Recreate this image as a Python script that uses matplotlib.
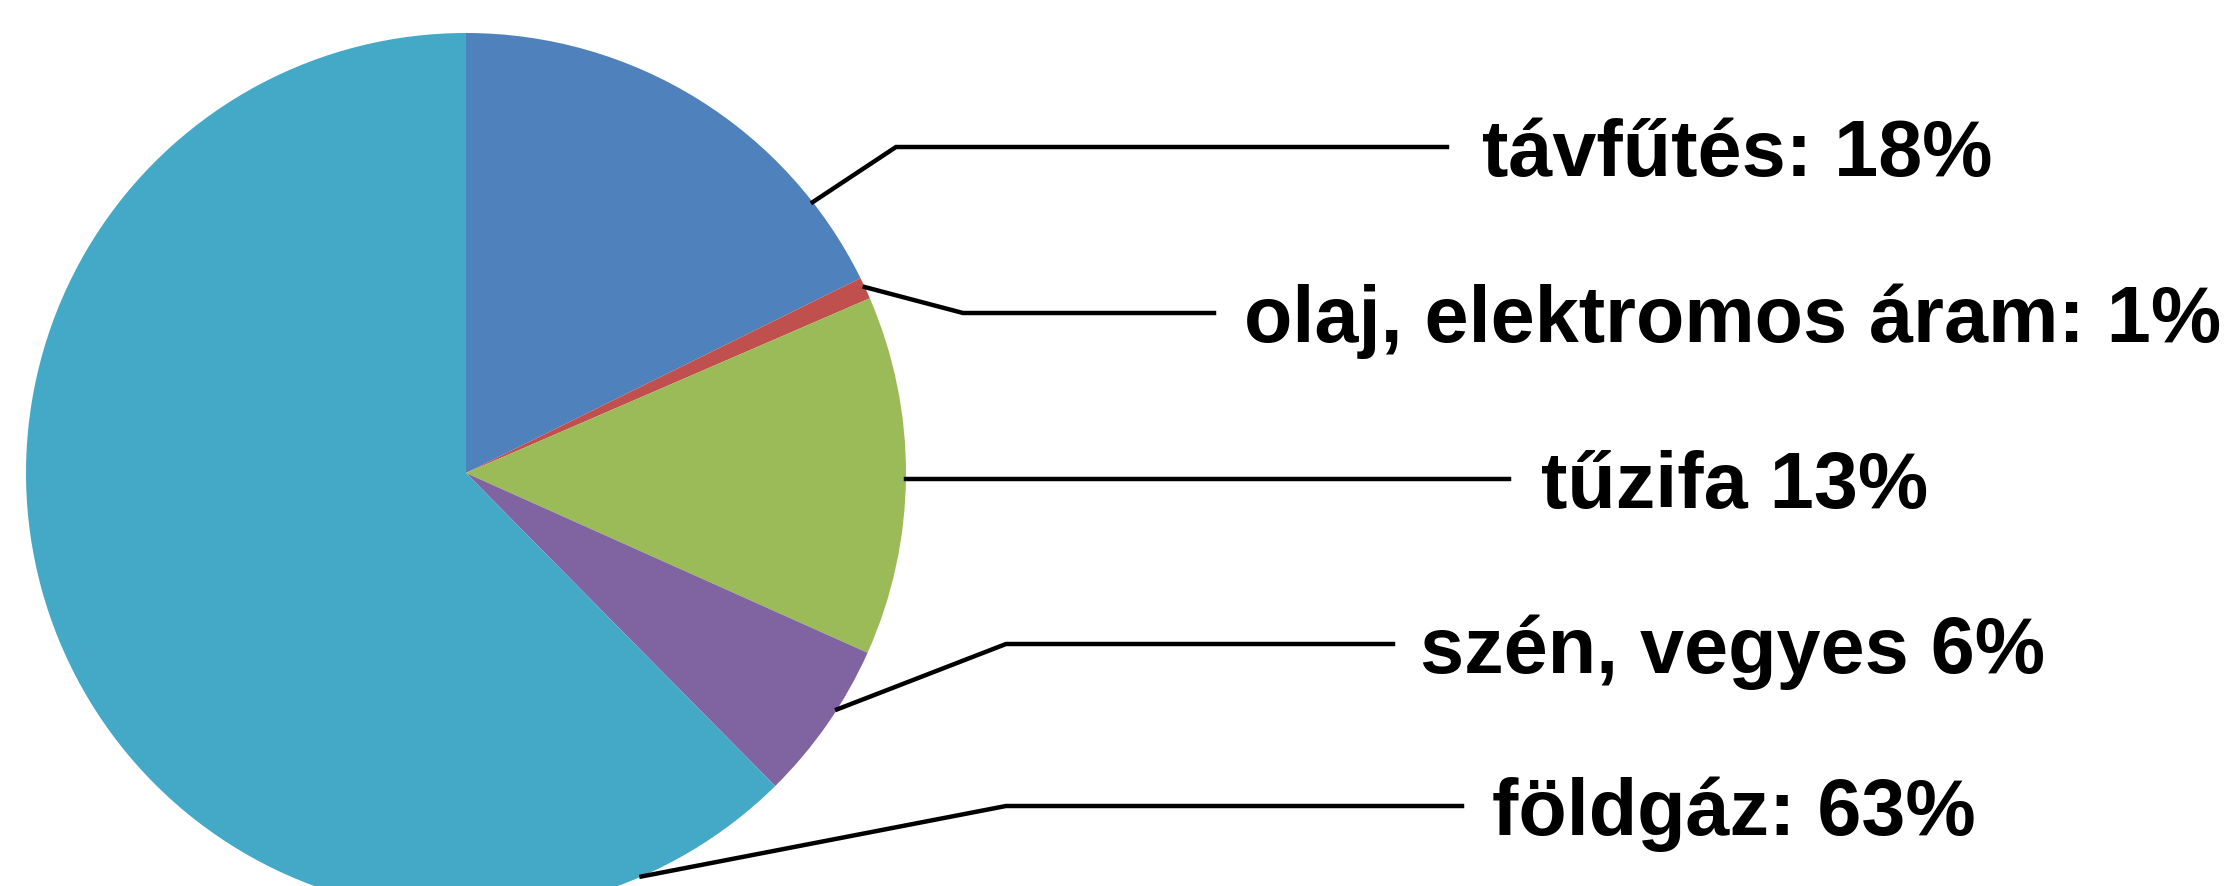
import numpy as np
import matplotlib.pyplot as plt

W, H = 2234, 886

categories = ['távfűtés', 'olaj, elektromos áram', 'tűzifa', 'szén, vegyes', 'földgáz']
shares = [17.7, 0.8, 13.2, 5.9, 62.4]
pct_labels = [18, 1, 13, 6, 63]
separators = [': ', ': ', ' ', ' ', ': ']
colors = ['#4F81BD', '#C0504D', '#9BBB59', '#8064A2', '#44A9C7']

# layout in image pixels (y measured from top)
cx, cy, r = 466, 473, 440
rim_angle = [38, 25, 0, -32.5, -66.5]
elbows = [(896, 147), (963, 313), (None, 479), (1006, 644), (1006, 806)]
line_end = [1447, 1214, 1509, 1393, 1462]
text_x = [1482, 1244, 1541, 1420, 1492]

fig = plt.figure(figsize=(W / 100, H / 100), dpi=100)
ax = fig.add_axes([0, 0, 1, 1])

ax.pie(shares, colors=colors, startangle=90, counterclock=False,
       center=(cx, H - cy), radius=r, wedgeprops=dict(linewidth=0))

for i, cat in enumerate(categories):
    a = np.deg2rad(rim_angle[i])
    sx = cx + r * np.cos(a)
    sy = (H - cy) + r * np.sin(a)
    ex, ey = elbows[i]
    if ex is None:
        xs = [sx, line_end[i]]
        ys = [H - ey, H - ey]
    else:
        xs = [sx, ex, line_end[i]]
        ys = [sy, H - ey, H - ey]
    ax.plot(xs, ys, color='black', lw=3.2, solid_joinstyle='miter')
    ax.text(text_x[i], H - ey - 29, f'{cat}{separators[i]}{pct_labels[i]}%',
            fontsize=57, fontweight='bold', family='Liberation Sans',
            ha='left', va='baseline')

ax.set_xlim(0, W)
ax.set_ylim(0, H)
ax.set_aspect('auto')
ax.axis('off')

fig.savefig('out.png', dpi=100)
